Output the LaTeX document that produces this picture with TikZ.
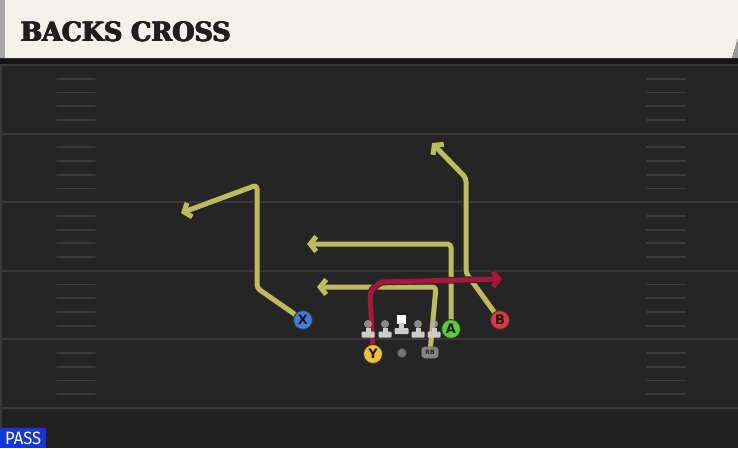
\documentclass[tikz,border=0pt]{standalone}
\usepackage{fontspec}
\setmainfont{DejaVu Sans}
\newfontfamily\titlefont{DejaVu Serif}
\newfontfamily\passfont{Fira Sans}
\usetikzlibrary{arrows.meta}
\newcommand\heavytext[1]{\rlap{#1}\rlap{\hspace{0.45pt}#1}\rlap{\raisebox{0.3pt}{#1}}\hspace{0.45pt}\raisebox{0.3pt}{#1}}
\definecolor{fieldbg}{HTML}{252525}
\definecolor{yardcol}{HTML}{393939}
\definecolor{hashcol}{HTML}{3D3D3D}
\definecolor{barcol}{HTML}{F3F1EA}
\definecolor{routeyel}{HTML}{BCBC5C}
\definecolor{routered}{HTML}{A8163A}
\definecolor{xblue}{HTML}{3F7FDB}
\definecolor{yyel}{HTML}{F2C230}
\definecolor{agreen}{HTML}{5DCB35}
\definecolor{bred}{HTML}{E0383F}
\definecolor{passblue}{HTML}{1436DC}
\definecolor{olgrey}{HTML}{CCCCCC}
\pgfdeclarelayer{field}
\pgfdeclarelayer{routes}
\pgfsetlayers{field,routes,main}
\tikzset{
  yardline/.style={draw=yardcol, line width=2pt},
  hashmark/.style={draw=hashcol, line width=1.8pt, line cap=round},
  route/.style={line width=5pt, rounded corners=3.5pt, line join=round,
    -{Straight Barb[length=6pt, width=15pt]},
    preaction={draw=black!85, line width=6.8pt}},
  yroute/.style={route, draw=routeyel},
  rroute/.style={route, draw=routered},
  player/.style={circle, minimum size=19pt, inner sep=0pt, draw=black!80,
    line width=0.9pt, font=\bfseries\fontsize{13}{13}\selectfont, text=black!90},
  olman/.pic={
    \fill[olgrey!85!black, opacity=0.75] (0,-12.5) circle (4pt);
    \fill[olgrey] (-2.5,-9) rectangle (2.5,-4);
    \fill[olgrey, rounded corners=1pt] (-6.5,-5) rectangle (6.5,1);
  },
  olcenter/.pic={
    \fill[white] (-4.5,-20) rectangle (4.5,-11);
    \fill[olgrey] (-2.5,-11.5) rectangle (2.5,-6);
    \fill[olgrey, rounded corners=1pt] (-7,-6.5) rectangle (7,-0.5);
  }
}
\begin{document}
\begin{tikzpicture}[x=1pt, y=-1pt]
\useasboundingbox (0,0) rectangle (738,448);
\begin{pgfonlayer}{field}
  \fill[fieldbg] (0,0) rectangle (738,448);
  \fill[black!12!fieldbg] (0,410) rectangle (738,448);
  \fill[yardcol] (0,60) rectangle (2,448);
  \draw[yardline] (0,65) -- (738,65);
  \foreach \yy in {133.6,202.2,270.8,339.4,408} {
    \draw[yardline] (0,\yy) -- (738,\yy);
  }
  \foreach \base in {65,133.6,202.2,270.8,339.4} {
    \foreach \i in {1,2,3,4} {
      \draw[hashmark] (57,\base+13.7*\i) -- (95,\base+13.7*\i);
      \draw[hashmark] (647,\base+13.7*\i) -- (685,\base+13.7*\i);
    }
  }
  % title bar
  \fill[black!92] (0,57) rectangle (738,63.5);
  \fill[barcol] (0,0) -- (738,0) -- (738,38) -- (732,58) -- (0,58) -- cycle;
  \fill[black!40] (738,38) -- (732,58) -- (738,58) -- cycle;
  \fill[black!35] (0,0) rectangle (5,58);
  \node[anchor=south west, inner sep=0pt, text=black!88] (title) at (20,42.5)
    {\resizebox{211pt}{20.5pt}{\titlefont\bfseries\heavytext{BACKS CROSS}}};
  % pass label
  \fill[passblue] (0,428) rectangle (46,448);
  \node[anchor=south west, inner sep=0pt, text=white] (pass) at (5,444.5)
    {\resizebox{36pt}{12.5pt}{\passfont PASS}};
\end{pgfonlayer}

% players
\node[player, fill=xblue] (X) at (303,320) {X};
\node[player, fill=yyel] (Y) at (373,354) {Y};
\node[player, fill=agreen] (A) at (451,329) {A};
\node[player, fill=bred] (B) at (500,320) {B};
\node[circle, fill=black!55, minimum size=9pt, inner sep=0pt] (QB) at (402,353) {};
\node[rounded corners=3pt, fill=black!48, draw=black!70, line width=0.5pt,
  minimum width=17pt, minimum height=11.5pt, inner sep=0pt,
  font=\bfseries\fontsize{6}{6}\selectfont, text=black!85] (RB) at (430,352.5) {RB};

% linemen
\pic (lt) at (368,336.5) {olman};
\pic (lg) at (385,336.5) {olman};
\pic (c) at (401.5,334.5) {olcenter};
\pic (rg) at (418,336.5) {olman};
\pic (rt) at (434,336.5) {olman};

% routes
\begin{pgfonlayer}{routes}
  \coordinate (xr1) at (257,288);
  \coordinate (xr2) at (257,185);
  \coordinate (xr3) at (181,213);
  \draw[yroute] (X.center) -- (xr1) -- (xr2) -- (xr3);
  \coordinate (ar1) at (451,244);
  \coordinate (ar2) at (307,244);
  \draw[yroute] (A.center) -- (ar1) -- (ar2);
  \coordinate (rb1) at (436,287);
  \coordinate (rb2) at (317,287);
  \draw[yroute] (RB.center) -- (rb1) -- (rb2);
  \coordinate (br1) at (466,273);
  \coordinate (br2) at (466,178);
  \coordinate (br3) at (432,143);
  \draw[yroute] (B.center) -- (br1) -- (br2) -- (br3);
  \coordinate (yr1) at (370,292);
  \coordinate (yr2) at (380,282);
  \coordinate (yr3) at (502,279);
  \draw[rroute] (Y.center) -- (yr1) -- (yr2) -- (yr3);
\end{pgfonlayer}
\end{tikzpicture}
\end{document}
